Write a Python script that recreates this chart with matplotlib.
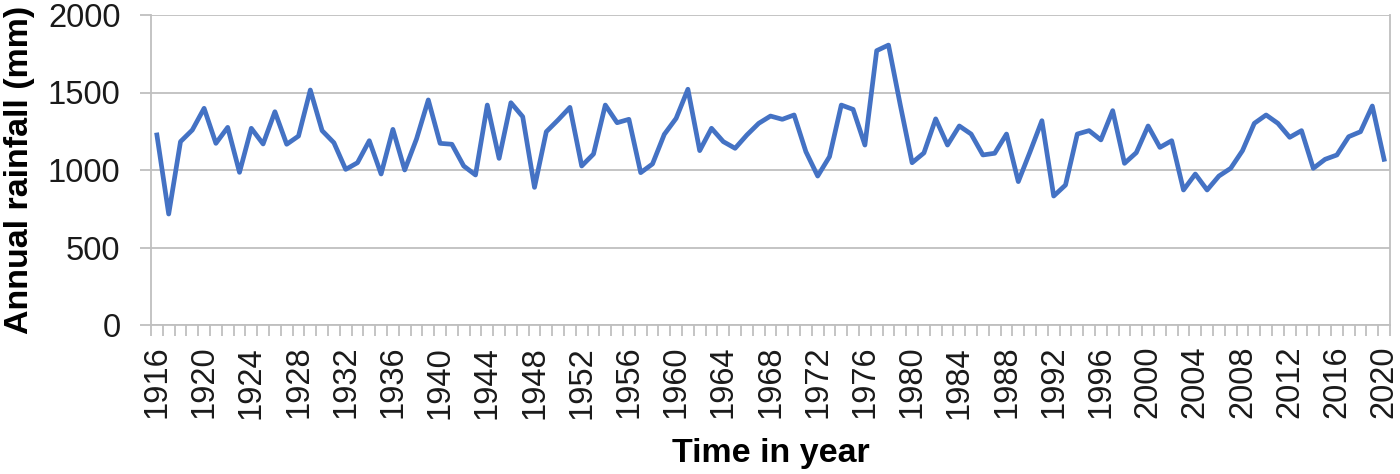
import numpy as np
import matplotlib
matplotlib.use('Agg')
import matplotlib.pyplot as plt
from matplotlib.ticker import FixedLocator

plt.rcParams['font.family'] = ['Liberation Sans', 'DejaVu Sans']

years = list(range(1916, 2021))
rainfall = [
    1226, 716, 1183, 1258, 1398, 1172, 1275, 985, 1269, 1168,   # 1916-1925
    1376, 1166, 1219, 1516, 1254, 1176, 1004, 1047, 1189, 974,  # 1926-1935
    1262, 1000, 1200, 1452, 1172, 1166, 1026, 968, 1419, 1075,  # 1936-1945
    1434, 1344, 888, 1247, 1323, 1404, 1026, 1103, 1419, 1305,  # 1946-1955
    1327, 983, 1039, 1230, 1333, 1521, 1125, 1269, 1183, 1140,  # 1956-1965
    1226, 1301, 1348, 1327, 1355, 1118, 961, 1086, 1419, 1391,  # 1966-1975
    1161, 1770, 1806, 1419, 1047, 1110, 1330, 1161, 1284, 1232, # 1976-1985
    1097, 1108, 1232, 925, 1118, 1318, 832, 903, 1232, 1254,    # 1986-1995
    1194, 1383, 1043, 1112, 1284, 1146, 1189, 871, 974, 871,    # 1996-2005
    961, 1011, 1125, 1301, 1355, 1301, 1211, 1254, 1011, 1069,  # 2006-2015
    1097, 1215, 1247, 1413, 1069,                               # 2016-2020
]
label_years = list(range(1916, 2021, 4))

fig = plt.figure(figsize=(14, 4.74), dpi=100)
ax = fig.add_axes([151 / 1400, 1 - 325 / 474, (1390 - 151) / 1400, 310 / 474])

ax.plot(years, rainfall, color='#4472C4', lw=3.4, solid_joinstyle='round')

ax.set_xlim(1915.5, 2020.5)
ax.set_ylim(0, 2000)
ax.set_yticks([0, 500, 1000, 1500, 2000])
ax.set_xticks(label_years)
ax.set_xticklabels([str(y) for y in label_years], rotation=90)
ax.xaxis.set_minor_locator(FixedLocator(np.arange(1915.5, 2021, 1)))

ax.grid(axis='y', color='#bfbfbf', lw=1.3)
ax.set_axisbelow(True)
for s in ['left', 'bottom', 'right']:
    ax.spines[s].set_color('#bfbfbf')
    ax.spines[s].set_linewidth(1.3)
ax.spines['top'].set_visible(False)

ax.tick_params(axis='x', which='major', length=0, pad=15, labelsize=23.5, colors='#1a1a1a')
ax.tick_params(axis='x', which='minor', length=8, width=1.3, color='#bfbfbf')
ax.tick_params(axis='y', length=8, width=1.3, color='#bfbfbf', pad=14, labelsize=23.5, labelcolor='#1a1a1a')

ax.set_ylabel('Annual rainfall (mm)', fontsize=24.5, fontweight='bold', labelpad=9)
ax.set_xlabel('Time in year', fontsize=24.5, fontweight='bold', labelpad=14)

plt.savefig('out.png', dpi=100)
plt.close()
